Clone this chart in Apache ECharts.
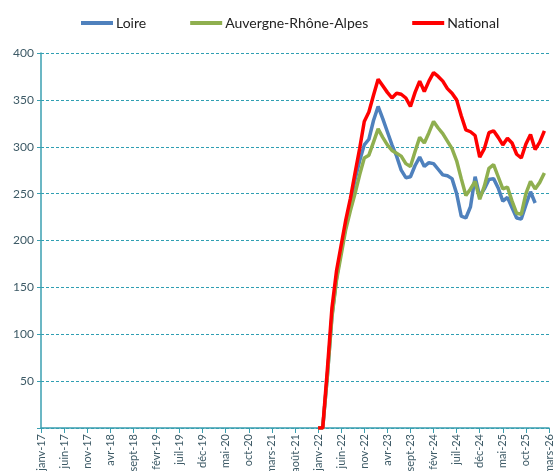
<!DOCTYPE html>
<html><head><meta charset="utf-8">
<script src="https://cdn.jsdelivr.net/npm/echarts@6/dist/echarts.min.js"></script>
<style>html,body{margin:0;padding:0;background:#fff}#c{width:553px;height:471px}</style>
</head><body><div id="c"></div>
<script>
// Month names and years for the category axis
const monthNames = ['janv','févr','mars','avr','mai','juin','juil','août','sept','oct','nov','déc'];
const years = ['17','18','19','20','21','22','23','24','25','26'];
const categories = [];
years.forEach(y => monthNames.forEach((m, i) => { if (!(y === '26' && i > 2)) categories.push(m + '-' + y); }));

// Values from janv-22 onwards (earlier months empty)
const loire = [0,0,55,120,160,190,215,240,265,285,302,308,328,343,330,316,302,290,275,267,268,280,289,279,283,282,276,270,269,266,250,226,224,236,268,247,255,265,266,256,242,246,235,224,223,238,252,240];
const aura = [0,0,55,118,158,185,212,232,250,270,288,291,305,319,310,302,296,293,290,282,279,295,310,304,315,327,320,314,306,298,285,266,248,255,263,244,258,277,281,268,255,257,242,229,228,250,263,255,262,272];
const national = [0,0,62,128,168,195,222,245,272,298,327,337,355,372,365,358,352,357,356,352,343,358,370,359,370,379,375,370,362,357,350,333,318,316,312,289,298,315,317,310,302,309,304,292,288,303,313,297,305,317];
const startIndex = categories.indexOf('janv-22');

function pad(arr) {
  const out = new Array(startIndex).fill(null).concat(arr);
  while (out.length < categories.length) out.push(null);
  return out;
}

const font = 'Lato, "Open Sans", sans-serif';
const textColor = '#3d5a66';
const axisColor = '#3a9fb0';

const chart = echarts.init(document.getElementById('c'));
chart.setOption({
  animation: false,
  legend: {
    top: 11, left: 76, itemWidth: 32, itemHeight: 4, itemGap: 44,
    textStyle: { fontFamily: font, fontSize: 14, color: '#222', padding: [0,0,0,-2] },
    icon: 'rect',
    data: ['Loire', 'Auvergne-Rhône-Alpes', 'National']
  },
  grid: { left: 41, right: 4, top: 53, bottom: 43, containLabel: false, outerBoundsMode: 'none' },
  xAxis: {
    type: 'category', data: categories, boundaryGap: false,
    axisLine: { lineStyle: { color: axisColor, width: 1.5 } },
    axisTick: { interval: 4, length: 5, lineStyle: { color: axisColor } },
    axisLabel: { interval: 4, rotate: 90, fontFamily: font, fontSize: 11, color: textColor, margin: 6 },
    splitLine: { show: false }
  },
  yAxis: {
    type: 'value', min: 0, max: 400, interval: 50,
    axisLine: { show: true, lineStyle: { color: axisColor, width: 1.5 } },
    axisTick: { show: true, length: 4, lineStyle: { color: axisColor } },
    axisLabel: { fontFamily: font, fontSize: 12, color: textColor, margin: 7,
      formatter: v => v === 0 ? '' : v },
    splitLine: { lineStyle: { color: '#2f9fb3', type: [3, 2], width: 1 } }
  },
  series: [
    { name: 'Loire', type: 'line', data: pad(loire), showSymbol: false, symbol: 'none',
      lineStyle: { color: '#4f81bd', width: 3.5 }, itemStyle: { color: '#4f81bd' } },
    { name: 'Auvergne-Rhône-Alpes', type: 'line', data: pad(aura), showSymbol: false, symbol: 'none',
      lineStyle: { color: '#8faf4f', width: 3.5 }, itemStyle: { color: '#8faf4f' } },
    { name: 'National', type: 'line', data: pad(national), showSymbol: false, symbol: 'none',
      lineStyle: { color: '#ff0000', width: 3.5 }, itemStyle: { color: '#ff0000' } }
  ]
});
</script>
</body></html>
